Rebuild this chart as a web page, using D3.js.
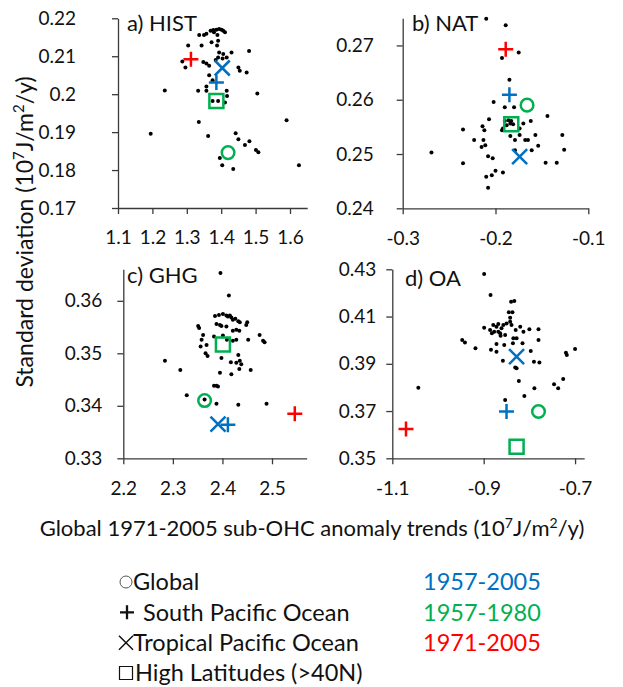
<!DOCTYPE html>
<html>
<head>
<meta charset="utf-8">
<script src="https://cdn.jsdelivr.net/npm/d3@7"></script>
<style>
    body { margin: 0; background: #fff; }
    svg text { font-family: Lato, "Open Sans", sans-serif; fill: #111; }
    .axis path, .axis line { stroke: #3a3a3a; stroke-width: 1.3; }
    .axis text { font-size: 19px; fill: #111; }
</style>
</head>
<body>
<svg id="chart" width="623" height="687"></svg>
<script>
// categories
const regions = ["Global", "South Pacific Ocean", "Tropical Pacific Ocean", "High Latitudes (>40N)"];
const regionShapes = ["circle", "plus", "cross", "square"];
const periods = ["1957-2005", "1957-1980", "1971-2005"];

// ensemble members [trend, std]
const histDots = [[1.195,0.1896],[1.236,0.2010],[1.304,0.2128],[1.287,0.2086],[1.296,0.2070],[1.336,0.2156],
    [1.343,0.2128],[1.350,0.2156],[1.357,0.2159],[1.369,0.2167],[1.377,0.2169],[1.386,0.2170],[1.394,0.2172],
    [1.401,0.2170],[1.406,0.2167],[1.411,0.2163],[1.379,0.2163],[1.372,0.2137],[1.389,0.2156],[1.391,0.2141],
    [1.388,0.2128],[1.394,0.2110],[1.391,0.2097],[1.406,0.2106],[1.416,0.2097],[1.430,0.2110],[1.348,0.2085],
    [1.357,0.2081],[1.365,0.2075],[1.384,0.2090],[1.404,0.2094],[1.454,0.2062],[1.450,0.2070],[1.474,0.2057],
    [1.481,0.2114],[1.365,0.2050],[1.375,0.2037],[1.333,0.2009],[1.357,0.2020],[1.357,0.2009],[1.416,0.2009],
    [1.417,0.1995],[1.411,0.1978],[1.375,0.1982],[1.391,0.1982],[1.505,0.2002],[1.335,0.1927],[1.362,0.1890],
    [1.442,0.1897],[1.450,0.1881],[1.469,0.1866],[1.482,0.1876],[1.501,0.1853],[1.508,0.1847],[1.396,0.1832],
    [1.403,0.1813],[1.435,0.1803],[1.590,0.1931],[1.626,0.1813]];
const natDots = [[-0.210,0.2749],[-0.189,0.2737],[-0.193,0.2677],[-0.175,0.2687],[-0.185,0.2637],[-0.202,0.2596],
    [-0.180,0.2586],[-0.190,0.2586],[-0.207,0.2564],[-0.190,0.2561],[-0.186,0.2562],[-0.183,0.2561],[-0.181,0.2555],
    [-0.188,0.2553],[-0.184,0.2556],[-0.235,0.2545],[-0.214,0.2551],[-0.212,0.2544],[-0.193,0.2544],[-0.192,0.2547],
    [-0.174,0.2547],[-0.170,0.2556],[-0.162,0.2561],[-0.144,0.2570],[-0.223,0.2526],[-0.213,0.2526],[-0.211,0.2516],
    [-0.215,0.2513],[-0.184,0.2533],[-0.179,0.2526],[-0.174,0.2535],[-0.168,0.2526],[-0.165,0.2526],[-0.157,0.2535],
    [-0.154,0.2515],[-0.161,0.2507],[-0.128,0.2535],[-0.126,0.2508],[-0.269,0.2503],[-0.235,0.2483],[-0.208,0.2496],
    [-0.203,0.2492],[-0.200,0.2469],[-0.204,0.2461],[-0.210,0.2458],[-0.192,0.2466],[-0.208,0.2438],[-0.146,0.2484],
    [-0.134,0.2484],[-0.179,0.2507]];
const ghgDots = [[2.396,0.3653],[2.413,0.3610],[2.385,0.3571],[2.393,0.3573],[2.401,0.3575],[2.408,0.3572],
    [2.411,0.3570],[2.415,0.3572],[2.418,0.3568],[2.421,0.3564],[2.426,0.3566],[2.432,0.3561],[2.435,0.3559],
    [2.450,0.3559],[2.448,0.3554],[2.351,0.3552],[2.353,0.3548],[2.388,0.3556],[2.395,0.3554],[2.398,0.3552],
    [2.408,0.3551],[2.421,0.3543],[2.428,0.3545],[2.434,0.3543],[2.361,0.3535],[2.358,0.3526],[2.383,0.3532],
    [2.401,0.3534],[2.409,0.3526],[2.421,0.3524],[2.428,0.3526],[2.452,0.3526],[2.475,0.3535],[2.482,0.3524],
    [2.485,0.3521],[2.368,0.3516],[2.356,0.3513],[2.366,0.3500],[2.370,0.3495],[2.398,0.3491],[2.432,0.3497],
    [2.428,0.3482],[2.417,0.3483],[2.435,0.3486],[2.438,0.3479],[2.434,0.3470],[2.418,0.3460],[2.457,0.3468],
    [2.395,0.3463],[2.284,0.3486],[2.315,0.3468],[2.383,0.3438],[2.388,0.3438],[2.391,0.3437],[2.328,0.3420],
    [2.388,0.3404],[2.432,0.3402],[2.489,0.3404],[2.364,0.3412]];
const oaDots = [[-0.899,0.4280],[-0.885,0.4191],[-0.840,0.4163],[-0.833,0.4166],[-0.845,0.4118],[-0.837,0.4118],
    [-0.842,0.4095],[-1.043,0.3799],[-0.947,0.4001],[-0.941,0.3990],[-0.918,0.3966],[-0.899,0.4053],[-0.886,0.4043],
    [-0.879,0.4064],[-0.872,0.4057],[-0.868,0.4036],[-0.864,0.4029],[-0.861,0.4050],[-0.857,0.4064],[-0.850,0.4071],
    [-0.842,0.4078],[-0.839,0.4064],[-0.853,0.4022],[-0.863,0.4019],[-0.882,0.4029],[-0.830,0.4043],[-0.820,0.4057],
    [-0.813,0.4036],[-0.800,0.4046],[-0.780,0.4046],[-0.835,0.4008],[-0.828,0.4008],[-0.780,0.4001],[-0.872,0.3984],
    [-0.855,0.3980],[-0.884,0.3959],[-0.872,0.3951],[-0.836,0.3987],[-0.815,0.3987],[-0.797,0.3954],[-0.858,0.3913],
    [-0.831,0.3884],[-0.828,0.3881],[-0.790,0.3909],[-0.778,0.3905],[-0.720,0.3947],[-0.718,0.3937],[-0.700,0.3963],
    [-0.823,0.3827],[-0.746,0.3813],[-0.726,0.3836],[-0.737,0.3796],[-0.789,0.3796],[-0.811,0.3764],[-0.853,0.3747],
    [-0.868,0.4068],[-0.877,0.4036]];

// observations [region, period, trend, std]
const histObs = [["Global","1957-1980",1.420,0.1846],["High Latitudes (>40N)","1957-1980",1.386,0.1982],
    ["South Pacific Ocean","1957-2005",1.386,0.2031],["Tropical Pacific Ocean","1957-2005",1.403,0.2069],
    ["South Pacific Ocean","1971-2005",1.312,0.2092]];
const natObs = [["South Pacific Ocean","1971-2005",-0.189,0.2693],["South Pacific Ocean","1957-2005",-0.185,0.2609],
    ["Global","1957-1980",-0.166,0.2590],["High Latitudes (>40N)","1957-1980",-0.183,0.2555],
    ["Tropical Pacific Ocean","1957-2005",-0.174,0.2495]];
const ghgObs = [["High Latitudes (>40N)","1957-1980",2.401,0.3517],["Global","1957-1980",2.364,0.3410],
    ["Tropical Pacific Ocean","1957-2005",2.391,0.3365],["South Pacific Ocean","1957-2005",2.411,0.3364],
    ["South Pacific Ocean","1971-2005",2.546,0.3385]];
const oaObs = [["Tropical Pacific Ocean","1957-2005",-0.828,0.3930],["South Pacific Ocean","1957-2005",-0.850,0.3698],
    ["Global","1957-1980",-0.780,0.3698],["High Latitudes (>40N)","1957-1980",-0.828,0.3549],
    ["South Pacific Ocean","1971-2005",-1.070,0.3624]];

// tick labels
const histXTicks = [1.1, 1.2, 1.3, 1.4, 1.5, 1.6];
const histYTicks = [0.17, 0.18, 0.19, 0.2, 0.21, 0.22];
const natXTicks = [-0.3, -0.2, -0.1];
const natYTicks = [0.24, 0.25, 0.26, 0.27];
const ghgXTicks = [2.2, 2.3, 2.4, 2.5];
const ghgYTicks = [0.33, 0.34, 0.35, 0.36];
const oaXTicks = [-1.1, -0.9, -0.7];
const oaYTicks = [0.35, 0.37, 0.39, 0.41, 0.43];

var color = d3.scaleOrdinal().domain(periods).range(["#0070C0", "#00B050", "#FF0000"]);
var shapeOf = d3.scaleOrdinal().domain(regions).range(regionShapes);

var svg = d3.select("#chart");

var panels = [
    {title: "a) HIST", dots: histDots, obs: histObs, xt: histXTicks, yt: histYTicks,
        xd: [1.1, 1.65], yd: [0.17, 0.22], xr: [118, 307.2], yr: [208, 18.3], gap: 36, tx: 127, ty: 31},
    {title: "b) NAT", dots: natDots, obs: natObs, xt: natXTicks, yt: natYTicks,
        xd: [-0.3, -0.1], yd: [0.24, 0.275], xr: [402.7, 588.3], yr: [208.3, 18.3], gap: 23, tx: 412, ty: 31},
    {title: "c) GHG", dots: ghgDots, obs: ghgObs, xt: ghgXTicks, yt: ghgYTicks,
        xd: [2.2, 2.57], yd: [0.33, 0.366], xr: [123.3, 306.7], yr: [458.3, 269.3], gap: 15, tx: 127, ty: 283},
    {title: "d) OA", dots: oaDots, obs: oaObs, xt: oaXTicks, yt: oaYTicks,
        xd: [-1.1, -0.68], yd: [0.35, 0.43], xr: [392.3, 584.2], yr: [458.3, 269.3], gap: 10, tx: 405, ty: 286}
];

function markPath(shape, cx, cy, h) {
    if (shape == "plus") return "M" + (cx - h) + "," + cy + "H" + (cx + h) + "M" + cx + "," + (cy - h) + "V" + (cy + h);
    if (shape == "cross") return "M" + (cx - h) + "," + (cy - h) + "L" + (cx + h) + "," + (cy + h) +
        "M" + (cx - h) + "," + (cy + h) + "L" + (cx + h) + "," + (cy - h);
    return "M" + (cx - h) + "," + (cy - h) + "h" + (2 * h) + "v" + (2 * h) + "h" + (-2 * h) + "Z";
}

panels.forEach(function (p) {
    var x = d3.scaleLinear().domain(p.xd).range(p.xr);
    var y = d3.scaleLinear().domain(p.yd).range(p.yr);
    var g = svg.append("g");

    g.append("g")
        .attr("class", "axis")
        .attr("transform", "translate(0," + p.yr[0] + ")")
        .call(d3.axisBottom(x).tickValues(p.xt).tickFormat(d => String(d)).tickSize(6).tickSizeOuter(0).tickPadding(17));

    g.append("g")
        .attr("class", "axis")
        .attr("transform", "translate(" + p.xr[0] + ",0)")
        .call(d3.axisLeft(y).tickValues(p.yt).tickFormat(d => String(d)).tickSize(6).tickSizeOuter(0).tickPadding(p.gap));

    g.selectAll(".axis .domain").attr("fill", "none");

    g.append("text")
        .attr("x", p.tx)
        .attr("y", p.ty)
        .style("font-size", "22px")
        .text(p.title);

    g.append("g")
        .selectAll("circle")
        .data(p.dots)
        .join("circle")
        .attr("cx", d => x(d[0]))
        .attr("cy", d => y(d[1]))
        .attr("r", 2)
        .attr("fill", "#000");

    var marks = g.append("g").attr("fill", "none").attr("stroke-width", 2.5);
    p.obs.forEach(function (d) {
        var shape = shapeOf(d[0]), cx = x(d[2]), cy = y(d[3]);
        if (shape == "circle") {
            marks.append("circle").attr("cx", cx).attr("cy", cy).attr("r", 6.3).attr("stroke", color(d[1]));
        } else {
            marks.append("path")
                .attr("d", markPath(shape, cx, cy, shape == "square" ? 7 : 7.5))
                .attr("stroke", color(d[1]));
        }
    });
});

// axis titles
var ytitle = svg.append("text")
    .attr("transform", "translate(33,232) rotate(-90)")
    .attr("text-anchor", "middle")
    .style("font-size", "23px");
ytitle.append("tspan").text("Standard deviation (10");
ytitle.append("tspan").attr("baseline-shift", "super").style("font-size", "15px").text("7");
ytitle.append("tspan").text("J/m");
ytitle.append("tspan").attr("baseline-shift", "super").style("font-size", "15px").text("2");
ytitle.append("tspan").text("/y)");

var xtitle = svg.append("text")
    .attr("x", 312)
    .attr("y", 536)
    .attr("text-anchor", "middle")
    .style("font-size", "22px");
xtitle.append("tspan").text("Global 1971-2005 sub-OHC anomaly trends (10");
xtitle.append("tspan").attr("baseline-shift", "super").style("font-size", "14px").text("7");
xtitle.append("tspan").text("J/m");
xtitle.append("tspan").attr("baseline-shift", "super").style("font-size", "14px").text("2");
xtitle.append("tspan").text("/y)");

// legend
var legendY = d3.scalePoint().domain(regions).range([582, 673]);
var legendTextX = [133, 143, 133, 135];
var legend = svg.append("g");
regions.forEach(function (r, i) {
    var cy = legendY(r), shape = shapeOf(r);
    if (shape == "circle") {
        legend.append("circle").attr("cx", 126).attr("cy", cy).attr("r", 6)
            .attr("fill", "none").attr("stroke", "#555").attr("stroke-width", 1);
    } else {
        legend.append("path")
            .attr("d", markPath(shape, shape == "plus" ? 127 : 126, cy, shape == "square" ? 6.5 : 7))
            .attr("fill", "none")
            .attr("stroke", "#111")
            .attr("stroke-width", shape == "plus" ? 2.3 : (shape == "cross" ? 1.5 : 1.2));
    }
    legend.append("text")
        .attr("x", legendTextX[i])
        .attr("y", cy)
        .attr("dy", "0.35em")
        .style("font-size", "23.5px")
        .text(r);
});
periods.forEach(function (p) {
    legend.append("text")
        .attr("x", 423)
        .attr("y", legendY(regions[periods.indexOf(p)]))
        .attr("dy", "0.35em")
        .style("font-size", "23.5px")
        .style("fill", color(p))
        .text(p);
});
</script>
</body>
</html>
